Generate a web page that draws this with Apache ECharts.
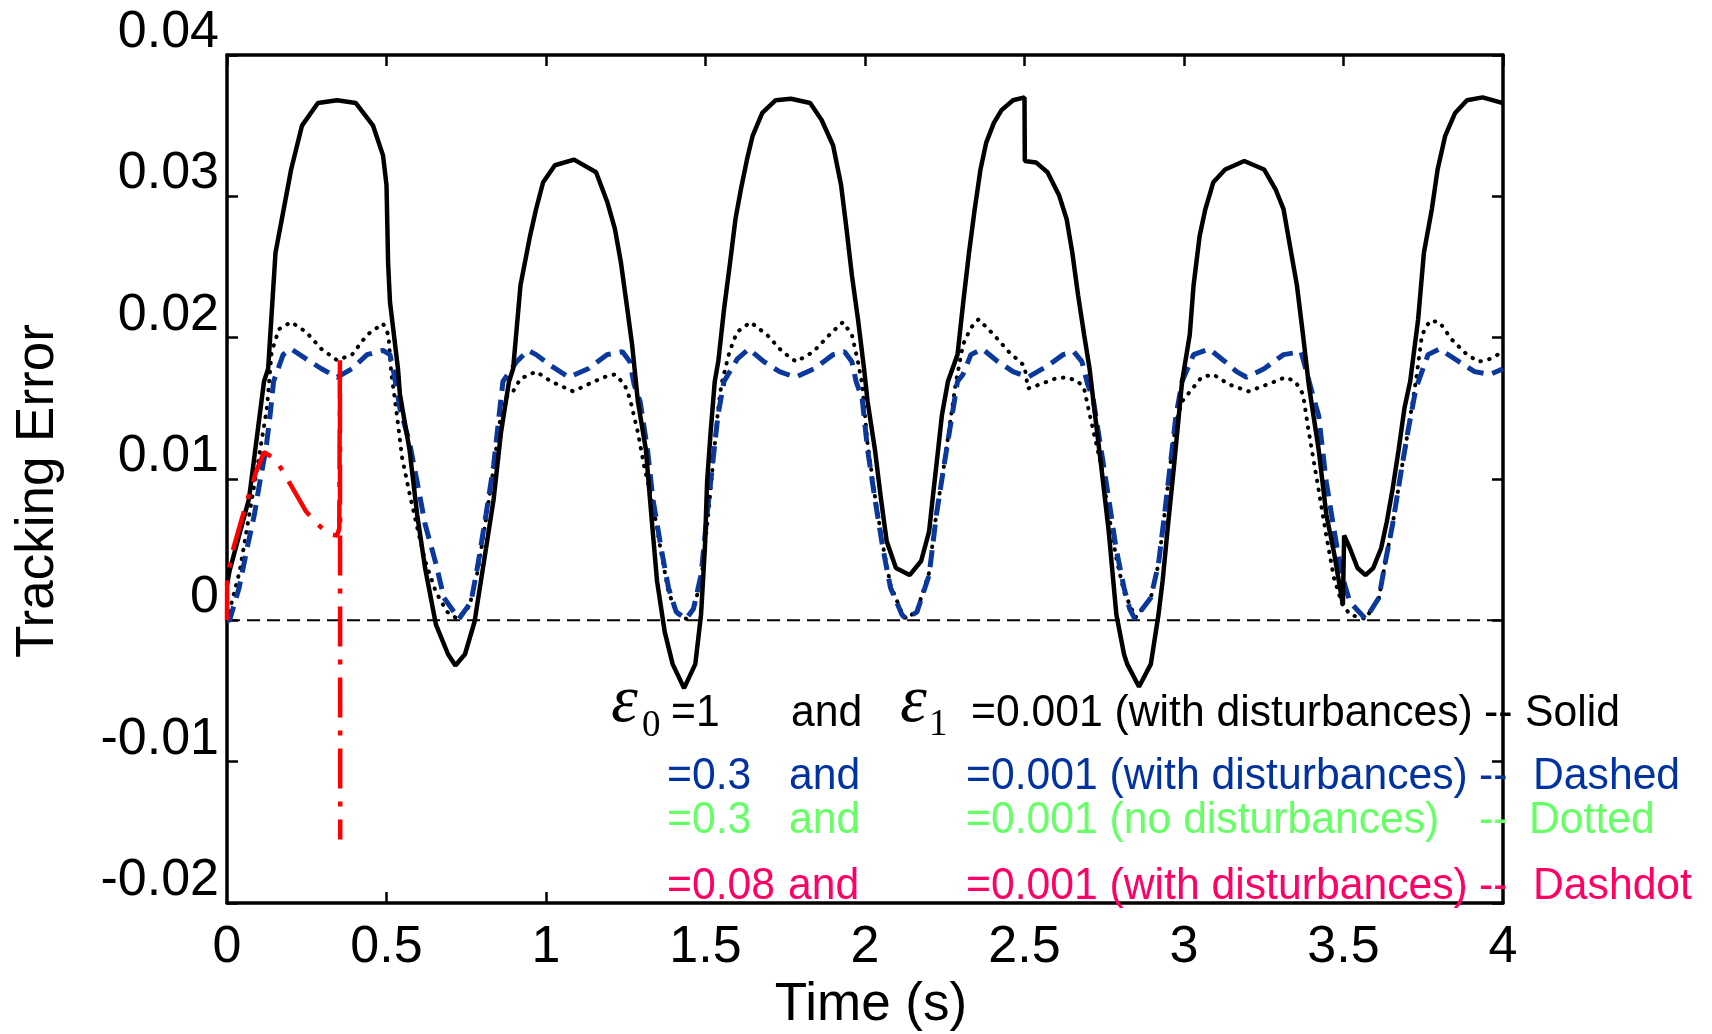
<!DOCTYPE html>
<html><head><meta charset="utf-8">
<script src="https://cdn.jsdelivr.net/npm/echarts@6/dist/echarts.min.js"></script>
<style>html,body{margin:0;padding:0;background:#fff}#c{width:1712px;height:1034px}</style>
</head><body><div id="c"></div>
<script>
// ---------- DATA ----------
const xTickLabels = ['0','0.5','1','1.5','2','2.5','3','3.5','4'];
const yTickLabels = ['-0.02','-0.01','0','0.01','0.02','0.03','0.04'];

// eps0 = 1 (with disturbances) -- solid
const solidT = [0,0.008,0.069,0.116,0.129,0.152,0.182,0.201,0.235,0.285,0.345,0.404,0.458,0.489,0.500,0.505,0.511,0.536,0.542,0.572,0.596,0.621,0.655,0.693,0.716,0.746,0.776,0.812,0.836,0.859,0.884,0.897,0.920,0.950,0.969,0.991,1.028,1.088,1.157,1.192,1.216,1.235,1.252,1.270,1.288,1.313,1.330,1.348,1.372,1.397,1.433,1.468,1.486,1.498,1.505,1.516,1.529,1.540,1.558,1.577,1.594,1.611,1.630,1.648,1.678,1.720,1.768,1.828,1.864,1.900,1.925,1.942,1.959,1.978,1.997,2.008,2.031,2.050,2.068,2.097,2.140,2.176,2.201,2.212,2.224,2.241,2.260,2.290,2.308,2.326,2.344,2.362,2.380,2.404,2.428,2.464,2.500,2.501,2.536,2.572,2.608,2.632,2.650,2.668,2.687,2.704,2.716,2.740,2.764,2.788,2.812,2.822,2.859,2.896,2.920,2.933,2.951,2.969,2.994,3.018,3.030,3.049,3.067,3.092,3.129,3.189,3.251,3.287,3.312,3.336,3.354,3.373,3.391,3.422,3.446,3.471,3.489,3.498,3.502,3.520,3.544,3.569,3.593,3.618,3.636,3.654,3.673,3.691,3.709,3.734,3.752,3.777,3.795,3.819,3.850,3.887,3.936,4.0];
const solidE = [0.0025,0.0035,0.0086,0.0169,0.0178,0.026,0.0296,0.0319,0.035,0.0366,0.0368,0.0366,0.035,0.0329,0.0308,0.0253,0.0225,0.0178,0.016,0.0121,0.0075,0.0037,-0.0003,-0.0024,-0.0032,-0.0024,-0.0001,0.0051,0.0086,0.0133,0.0169,0.0178,0.0237,0.0272,0.0291,0.031,0.0322,0.0326,0.0317,0.0296,0.0277,0.0253,0.0225,0.0195,0.0155,0.0121,0.0075,0.0028,-0.0008,-0.0031,-0.0048,-0.0031,0.0004,0.0051,0.0098,0.0133,0.0169,0.0183,0.022,0.0253,0.0284,0.0305,0.0326,0.0343,0.0359,0.0368,0.0369,0.0366,0.0354,0.0336,0.0308,0.0277,0.0244,0.0213,0.0178,0.0155,0.0121,0.0086,0.0056,0.0037,0.0032,0.0042,0.0063,0.0086,0.011,0.0145,0.0169,0.0188,0.0225,0.026,0.0291,0.0319,0.0338,0.0352,0.0361,0.0368,0.037,0.0325,0.0324,0.0317,0.0301,0.0284,0.026,0.023,0.0202,0.0178,0.0155,0.011,0.0063,0.0004,-0.0024,-0.0031,-0.0047,-0.0031,0.0004,0.0028,0.007,0.011,0.0169,0.0202,0.0237,0.0272,0.0291,0.031,0.0319,0.0325,0.0319,0.0305,0.0291,0.026,0.0237,0.0202,0.0167,0.0121,0.0075,0.0047,0.0023,0.0011,0.006,0.0051,0.0037,0.0032,0.0037,0.0051,0.007,0.0093,0.0121,0.015,0.0169,0.0213,0.026,0.0291,0.0319,0.0343,0.0359,0.0368,0.037,0.0366];

// eps0 = 0.3 (with disturbances) -- dashed
const dashedT = [0,0.008,0.038,0.063,0.086,0.103,0.122,0.135,0.146,0.176,0.201,0.248,0.296,0.345,0.392,0.439,0.489,0.511,0.524,0.542,0.572,0.596,0.621,0.655,0.680,0.727,0.765,0.787,0.812,0.836,0.853,0.865,0.908,0.944,0.969,1.016,1.072,1.132,1.191,1.240,1.263,1.276,1.295,1.318,1.335,1.361,1.384,1.408,1.439,1.462,1.486,1.505,1.522,1.539,1.558,1.600,1.636,1.683,1.732,1.781,1.840,1.900,1.936,1.959,1.972,1.991,2.008,2.031,2.056,2.080,2.116,2.129,2.163,2.201,2.224,2.248,2.273,2.290,2.307,2.332,2.368,2.417,2.464,2.511,2.572,2.621,2.655,2.680,2.698,2.715,2.740,2.764,2.787,2.812,2.830,2.846,2.896,2.920,2.939,2.957,2.975,2.994,3.030,3.079,3.129,3.165,3.196,3.251,3.312,3.367,3.379,3.403,3.422,3.446,3.471,3.495,3.520,3.569,3.611,3.630,3.654,3.679,3.703,3.727,3.765,3.801,3.862,3.911,3.960,4.0];
const dashedE = [0,0,0.0023,0.0051,0.0075,0.0098,0.0121,0.0145,0.0169,0.0188,0.0192,0.0185,0.0178,0.0172,0.0178,0.0188,0.0191,0.0188,0.0174,0.015,0.0126,0.0098,0.0068,0.004,0.0016,0.0001,0.0013,0.004,0.0075,0.011,0.0145,0.0169,0.0183,0.0191,0.0188,0.018,0.0172,0.0178,0.0188,0.019,0.0183,0.0167,0.0155,0.0121,0.0086,0.0051,0.0023,0.0006,0.0001,0.0008,0.0032,0.0075,0.011,0.0145,0.0169,0.0185,0.0192,0.0183,0.0176,0.0172,0.0178,0.0188,0.019,0.0183,0.0169,0.0157,0.0121,0.0086,0.0051,0.0023,0.0004,0.0001,0.0006,0.0032,0.0075,0.011,0.0145,0.0169,0.0174,0.0188,0.0192,0.0183,0.0176,0.0172,0.018,0.0188,0.019,0.0183,0.0167,0.0157,0.0121,0.0086,0.0051,0.0023,0.0008,0.0001,0.0016,0.004,0.0075,0.011,0.0145,0.0169,0.0188,0.0192,0.0183,0.0176,0.0172,0.0178,0.0188,0.019,0.018,0.016,0.0145,0.0098,0.0063,0.0032,0.0013,0.0001,0.0016,0.004,0.0068,0.0103,0.0135,0.0164,0.0188,0.0192,0.0183,0.0176,0.0174,0.0178];

// eps0 = 0.3 (no disturbances) -- dotted
const dottedT = [0,0.04,0.07,0.10,0.125,0.140,0.163,0.201,0.248,0.296,0.345,0.392,0.439,0.489,0.506,0.515,0.530,0.549,0.572,0.596,0.621,0.655,0.690,0.722,0.760,0.787,0.812,0.836,0.855,0.875,0.897,0.920,0.969,1.016,1.085,1.132,1.181,1.216,1.246,1.263,1.288,1.307,1.335,1.361,1.384,1.410,1.440,1.465,1.490,1.510,1.525,1.540,1.550,1.575,1.599,1.641,1.693,1.741,1.784,1.838,1.897,1.931,1.959,1.978,1.991,2.008,2.031,2.056,2.080,2.116,2.130,2.163,2.200,2.224,2.248,2.270,2.284,2.307,2.332,2.356,2.404,2.451,2.500,2.511,2.549,2.596,2.632,2.668,2.687,2.700,2.715,2.740,2.764,2.787,2.812,2.848,2.896,2.920,2.939,2.957,2.975,2.994,3.012,3.055,3.092,3.140,3.202,3.263,3.318,3.349,3.373,3.390,3.420,3.446,3.470,3.495,3.520,3.569,3.611,3.630,3.654,3.679,3.703,3.728,3.746,3.771,3.801,3.838,3.887,3.924,3.960,4.0];
const dottedE = [0,0.0035,0.0075,0.0115,0.015,0.019,0.0206,0.0211,0.0204,0.0192,0.0184,0.0188,0.0202,0.021,0.0202,0.0175,0.015,0.0115,0.009,0.0066,0.0042,0.002,0.0006,0.0001,0.001,0.0036,0.0072,0.0108,0.014,0.0158,0.0162,0.0171,0.0176,0.0169,0.0162,0.0167,0.0172,0.0174,0.0167,0.0157,0.0133,0.011,0.0082,0.0048,0.002,0.0005,0.0001,0.0009,0.0035,0.0078,0.0115,0.015,0.0167,0.019,0.0204,0.0211,0.0202,0.019,0.0183,0.019,0.0204,0.0211,0.0202,0.0183,0.0167,0.0125,0.0088,0.0053,0.0025,0.0005,0.0001,0.0007,0.0033,0.0076,0.011,0.0145,0.0167,0.0195,0.0207,0.0213,0.0202,0.019,0.018,0.0164,0.0167,0.0171,0.0172,0.0169,0.0164,0.015,0.0135,0.011,0.0075,0.0045,0.002,0.0002,0.0016,0.004,0.0075,0.011,0.014,0.0155,0.016,0.0172,0.0174,0.0167,0.0162,0.0167,0.0172,0.0169,0.016,0.0135,0.0095,0.006,0.003,0.0012,0.0004,0.0001,0.0016,0.004,0.0068,0.0103,0.0135,0.0171,0.0202,0.0212,0.0211,0.0199,0.0188,0.0183,0.0185,0.019];

// eps0 = 0.08 (with disturbances) -- dashdot
const dashdotT = [0,0.0005,0.020,0.044,0.069,0.091,0.116,0.152,0.176,0.212,0.248,0.284,0.320,0.345,0.352,0.354,0.355];
const dashdotE = [0,0.003,0.0051,0.007,0.0089,0.0105,0.0119,0.0114,0.0105,0.0091,0.0077,0.0068,0.0061,0.006,0.0065,0.0184,-0.0155];

// zero reference
const zeroT = [0,4];
const zeroE = [0,0];

// legend texts
const legendE0 = ['=1','=0.3','=0.3','=0.08'];
const legendAnd = ['and','and','and','and'];
const legendE1 = ['=0.001 (with disturbances)','=0.001 (with disturbances)','=0.001 (no disturbances)','=0.001 (with disturbances)'];
const legendSep = ['--','--','--','--'];
const legendName = ['Solid','Dashed','Dotted','Dashdot'];
const legendColors = ['#000000','#0033A0','#66FF66','#FF0066'];

// ---------- CHART ----------
const zip = (t, e) => t.map((x, i) => [x, e[i]]);
const SANS = '"Liberation Sans", Arial, Helvetica, sans-serif';
const SERIF = '"Liberation Serif", "Times New Roman", serif';

const rowY = [714, 777, 820.5, 887];
const xE0 = [671, 667, 667, 667];
const xAnd = [791, 789, 789, 788];
const xE1 = [971, 966, 966, 966];
const xSep = [1484, 1479, 1479, 1479];
const xName = [1525, 1533, 1529, 1533];

const graphics = [];
function txt(text, x, y, color, font, sx) {
  graphics.push({type:'text', z:100, x:x, y:y, scaleX: sx || 1,
    style:{text:text, fill:color, font:font, verticalAlign:'middle', align:'left'}});
}
const LF = '44px ' + SANS;
for (let i = 0; i < 4; i++) {
  const c = legendColors[i];
  txt(legendE0[i], xE0[i], rowY[i], c, LF, 0.97);
  txt(legendAnd[i], xAnd[i], rowY[i], c, LF, 0.97);
  txt(legendE1[i], xE1[i], rowY[i], c, LF, 0.97);
  txt(legendSep[i], xSep[i], rowY[i], c, LF, 0.97);
  txt(legendName[i], xName[i], rowY[i], c, LF, 0.97);
}
// epsilon symbols (first row)
txt('\u03B5', 611, 703, '#000', 'italic 68px ' + SERIF);
txt('0', 642, 726, '#000', '37px ' + SERIF);
txt('\u03B5', 900, 703, '#000', 'italic 68px ' + SERIF);
txt('1', 929, 725, '#000', '37px ' + SERIF);

const axisLineStyle = {color:'#000', width:3.5};
const tickStyle = {color:'#000', width:2.5};

const option = {
  animation: false,
  backgroundColor: '#fff',
  grid: {left:227, right:209, top:55, bottom:131, containLabel:false, outerBoundsMode:'none'},
  xAxis: [
    {type:'value', min:0, max:4, interval:0.5, position:'bottom',
     axisLine:{show:true, onZero:false, lineStyle:axisLineStyle},
     axisTick:{show:true, inside:true, length:11, lineStyle:tickStyle, customValues:[0.5, 1]},
     axisLabel:{show:true, margin:19, fontSize:52, color:'#000', fontFamily:SANS,
       formatter: v => xTickLabels[Math.round(v / 0.5)]},
     splitLine:{show:false},
     name:'Time (s)', nameLocation:'middle', nameGap:76,
     nameTextStyle:{fontSize:53, color:'#000', fontFamily:SANS, padding:[0,0,0,12]}},
    {type:'value', min:0, max:4, interval:0.5, position:'top',
     axisLine:{show:true, onZero:false, lineStyle:axisLineStyle},
     axisTick:{show:true, inside:true, length:11, lineStyle:tickStyle},
     axisLabel:{show:false}, splitLine:{show:false}}
  ],
  yAxis: [
    {type:'value', min:-0.02, max:0.04, interval:0.01, position:'left',
     axisLine:{show:true, onZero:false, lineStyle:axisLineStyle},
     axisTick:{show:true, inside:true, length:11, lineStyle:tickStyle},
     axisLabel:{show:true, margin:8, fontSize:52, color:'#000', fontFamily:SANS,
       verticalAlign:'bottom', lineHeight:45,
       formatter: v => yTickLabels[Math.round((v + 0.02) / 0.01)]},
     splitLine:{show:false},
     name:'Tracking Error', nameLocation:'middle', nameGap:162, nameRotate:90,
     nameTextStyle:{fontSize:53, color:'#000', fontFamily:SANS, padding:[0,24,0,0]}},
    {type:'value', min:-0.02, max:0.04, interval:0.01, position:'right',
     axisLine:{show:true, onZero:false, lineStyle:axisLineStyle},
     axisTick:{show:true, inside:true, length:11, lineStyle:tickStyle},
     axisLabel:{show:false}, splitLine:{show:false}}
  ],
  series: [
    {type:'line', name:'zero', data: zip(zeroT, zeroE), symbol:'none', z:1,
     lineStyle:{color:'#000', width:2, type:[13,7]}},
    {type:'line', name:'Dotted', data: zip(dottedT, dottedE), symbol:'none', z:2,
     lineStyle:{color:'#000', width:4, type:[0.5,8.5], cap:'round'}},
    {type:'line', name:'Dashed', data: zip(dashedT, dashedE), symbol:'none', z:3,
     lineStyle:{color:'#0a389c', width:5, type:[17,9]}},
    {type:'line', name:'Solid', data: zip(solidT, solidE), symbol:'none', z:4,
     lineStyle:{color:'#000', width:4.5}},
    {type:'line', name:'Dashdot', data: zip(dashdotT, dashdotE), symbol:'none', z:5,
     lineStyle:{color:'#ff0000', width:4.5, type:[40,13,5,13]}}
  ],
  graphic: graphics
};
const chart = echarts.init(document.getElementById('c'), null, {renderer:'canvas'});
chart.setOption(option);
</script>
</body></html>
